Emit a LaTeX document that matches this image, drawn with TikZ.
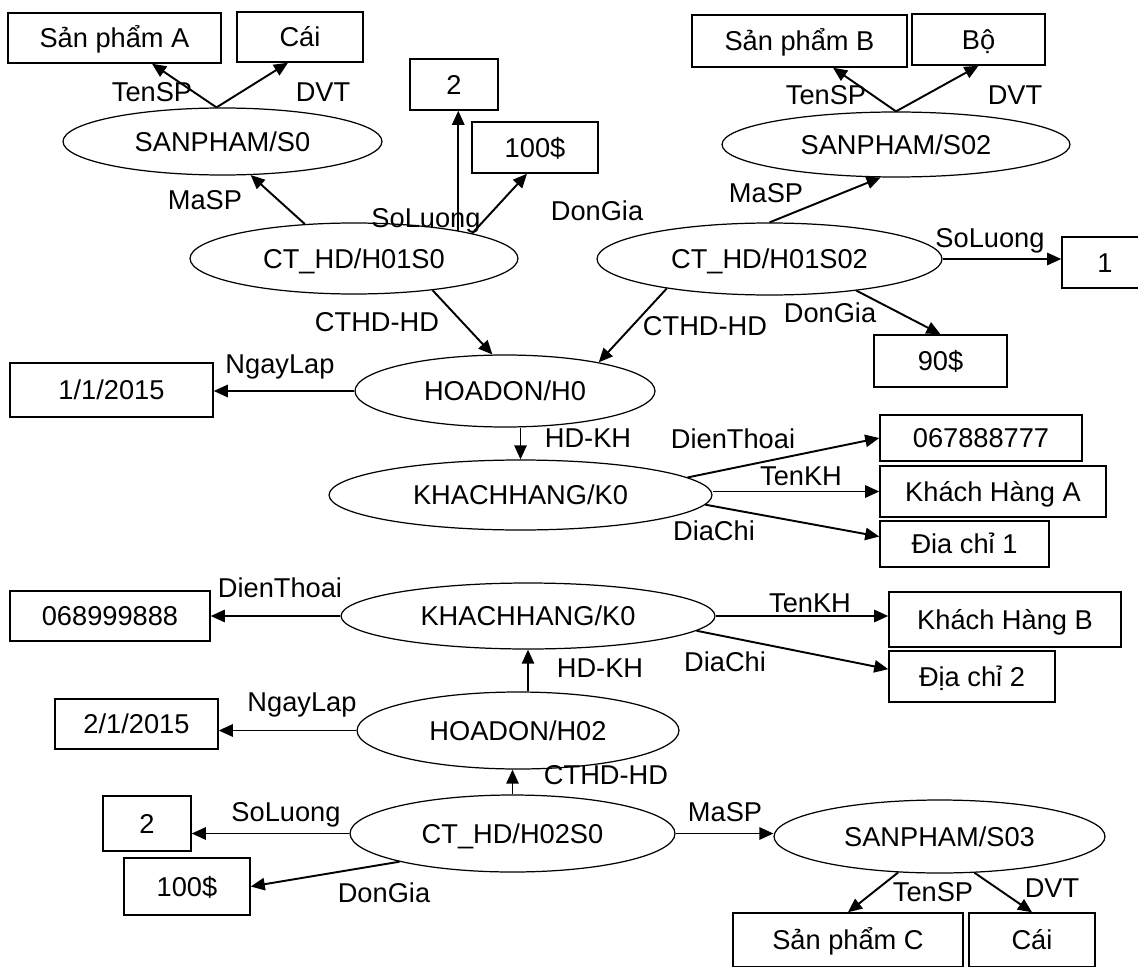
\documentclass[tikz,border=0pt]{standalone}
\usepackage{fontspec}
\setmainfont{Liberation Sans}
\usepackage{tikz}
\usetikzlibrary{shapes.geometric, arrows.meta, positioning, calc}

\begin{document}
\begin{tikzpicture}[
    x=0.02cm, y=-0.02cm,
    every node/.style={font=\fontsize{15.5}{18}\selectfont, text height=11.1pt, text depth=0pt},
    box/.style={rectangle, draw, line width=0.85pt, inner sep=0pt},
    ent/.style={ellipse, draw, line width=0.7pt, inner sep=0pt},
    lbl/.style={inner sep=0pt},
    arrow/.style={-{Triangle[length=8pt, width=7pt]}, line width=1.1pt}
]
    \useasboundingbox (0,0) rectangle (1138,966);
    \clip (0,0) rectangle (1138,966);

    % Entities (ellipses)
    \node[ent, minimum width=6.38cm, minimum height=1.34cm] (s0) at (222.5,141.5) {SANPHAM/S0};
    \node[ent, minimum width=6.96cm, minimum height=1.3cm] (s02) at (896,144.5) {SANPHAM/S02};
    \node[ent, minimum width=6.56cm, minimum height=1.42cm] (cthd1) at (354,258.5) {CT\_HD/H01S0};
    \node[ent, minimum width=6.9cm, minimum height=1.44cm] (cthd2) at (769.5,259) {CT\_HD/H01S02};
    \node[ent, minimum width=6.0cm, minimum height=1.44cm] (hd1) at (505,391) {HOADON/H0};
    \node[ent, minimum width=7.66cm, minimum height=1.4cm] (kh1) at (520.5,495) {KHACHHANG/K0};
    \node[ent, minimum width=7.48cm, minimum height=1.32cm] (kh2) at (528,616) {KHACHHANG/K0};
    \node[ent, minimum width=6.44cm, minimum height=1.54cm] (hd2) at (518,730.5) {HOADON/H02};
    \node[ent, minimum width=6.5cm, minimum height=1.54cm] (cthd3) at (512.5,833.5) {CT\_HD/H02S0};
    \node[ent, minimum width=6.62cm, minimum height=1.46cm] (s03) at (939.5,836.5) {SANPHAM/S03};

    % Values (boxes)
    \node[box, minimum width=4.26cm, minimum height=1.0cm] (spa) at (114.5,38) {Sản phẩm A};
    \node[box, minimum width=2.52cm, minimum height=1.0cm] (caiA) at (300,37) {Cái};
    \node[box, minimum width=1.76cm, minimum height=1.02cm] (q1) at (454,84.5) {2};
    \node[box, minimum width=2.52cm, minimum height=1.02cm] (p1) at (535,147.5) {100\$};
    \node[box, minimum width=4.3cm, minimum height=1.04cm] (spb) at (799.5,41) {Sản phẩm B};
    \node[box, minimum width=2.66cm, minimum height=1.02cm] (bo) at (978.5,39.5) {Bộ};
    \node[box, minimum width=1.72cm, minimum height=1.02cm] (q2) at (1105,262.5) {1};
    \node[box, minimum width=2.66cm, minimum height=1.04cm] (p2) at (940.5,361) {90\$};
    \node[box, minimum width=4.06cm, minimum height=1.08cm] (d1) at (111.5,390) {1/1/2015};
    \node[box, minimum width=4.04cm, minimum height=0.92cm] (tel1) at (981,438) {067888777};
    \node[box, minimum width=4.52cm, minimum height=1.02cm] (name1) at (993,491.5) {Khách Hàng A};
    \node[box, minimum width=3.38cm, minimum height=0.92cm] (addr1) at (964.5,544) {Đia chỉ 1};
    \node[box, minimum width=4.0cm, minimum height=1.0cm] (tel2) at (110,616) {068999888};
    \node[box, minimum width=4.64cm, minimum height=1.1cm] (name2) at (1005,619.5) {Khách Hàng B};
    \node[box, minimum width=3.32cm, minimum height=1.02cm] (addr2) at (972,676.5) {Địa chỉ 2};
    \node[box, minimum width=3.26cm, minimum height=1.0cm] (d2) at (136.5,724) {2/1/2015};
    \node[box, minimum width=1.76cm, minimum height=1.1cm] (q3) at (147,823.5) {2};
    \node[box, minimum width=2.52cm, minimum height=1.14cm] (p3) at (187,886.5) {100\$};
    \node[box, minimum width=4.6cm, minimum height=1.08cm] (spc) at (848,940) {Sản phẩm C};
    \node[box, minimum width=2.52cm, minimum height=1.08cm] (caiC) at (1032,940) {Cái};

    % Connectors, upper half
    \draw[arrow] (s0.100) -- ($(spa.south)+(37.5,0)$);
    \draw[arrow] (s0.100) -- ($(caiA.south)+(-12,0)$);
    \draw[arrow] (cthd1.145) -- (s0.-50);
    \draw[arrow] (cthd1.15) -- (cthd1.15 |- q1.south);
    \draw[arrow] (cthd1.12) -- ($(p1.south)+(-8,0)$);
    \draw[arrow] (cthd1.-22) -- (hd1.109);
    \draw[arrow] (cthd2.196) -- (hd1.17);
    \draw[arrow] (cthd2.north) -- (s02.-115);
    \draw[arrow] (s02.north) -- ($(spb.south)+(33.5,0)$);
    \draw[arrow] (s02.north) -- (bo.south);
    \draw[arrow] (cthd2.east) -- (cthd2.east -| q2.west);
    \draw[arrow] (cthd2.-20) -- (p2.north);
    \draw[arrow] (hd1.west) -- (hd1.west -| d1.east);
    \draw[arrow] (hd1.south -| kh1.north) -- (kh1.north);
    \draw[arrow] (kh1.6) -- (tel1.west);
    \draw[arrow] (name1.west -| kh1.east) -- (name1.west);
    \draw[arrow] (kh1.-3) -- (addr1.175);

    % Connectors, lower half
    \draw[arrow] (kh2.west) -- (kh2.west -| tel2.east);
    \draw[arrow] (kh2.east) -- (kh2.east -| name2.west);
    \draw[arrow] (kh2.-5) -- (addr2.175);
    \draw[arrow] (kh2.south |- hd2.north) -- (kh2.south);
    \draw[arrow] (hd2.west) -- (hd2.west -| d2.east);
    \draw[arrow] (cthd3.north) -- (cthd3.north |- hd2.south);
    \draw[arrow] (cthd3.west) -- (cthd3.west -| q3.east);
    \draw[arrow] (cthd3.194) -- (p3.east);
    \draw[arrow] (cthd3.east) -- (cthd3.east -| s03.west);
    \draw[arrow] (s03.-139) -- (spc.north);
    \draw[arrow] (s03.-46) -- (caiC.north);

    % Labels
    \node[lbl] (l1) at (152,92) {TenSP};
    \node[lbl] (l2) at (323,92) {DVT};
    \node[lbl] (l3) at (205,200) {MaSP};
    \node[lbl] (l4) at (426,218) {SoLuong};
    \node[lbl] (l5) at (597,211) {DonGia};
    \node[lbl] (l6) at (377,322) {CTHD-HD};
    \node[lbl] (l7) at (826,95) {TenSP};
    \node[lbl] (l8) at (1015,95) {DVT};
    \node[lbl] (l9) at (766,193) {MaSP};
    \node[lbl] (l10) at (990,238) {SoLuong};
    \node[lbl] (l11) at (830,313) {DonGia};
    \node[lbl] (l12) at (705,326) {CTHD-HD};
    \node[lbl] (l13) at (280,364) {NgayLap};
    \node[lbl] (l14) at (588,438) {HD-KH};
    \node[lbl] (l15) at (733,439) {DienThoai};
    \node[lbl] (l16) at (801,476) {TenKH};
    \node[lbl] (l17) at (714,531) {DiaChi};
    \node[lbl] (l18) at (280,588) {DienThoai};
    \node[lbl] (l19) at (810,603) {TenKH};
    \node[lbl] (l20) at (725,662) {DiaChi};
    \node[lbl] (l21) at (600,668) {HD-KH};
    \node[lbl] (l22) at (302,702) {NgayLap};
    \node[lbl] (l23) at (606,775) {CTHD-HD};
    \node[lbl] (l24) at (286,812) {SoLuong};
    \node[lbl] (l25) at (384,893) {DonGia};
    \node[lbl] (l26) at (725,812) {MaSP};
    \node[lbl] (l27) at (933,892) {TenSP};
    \node[lbl] (l28) at (1052,888) {DVT};
\end{tikzpicture}
\end{document}
